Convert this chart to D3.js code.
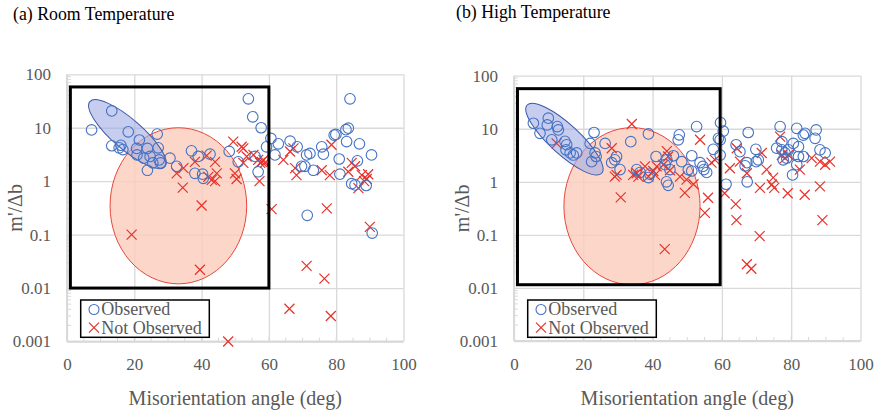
<!DOCTYPE html>
<html><head><meta charset="utf-8">
<script src="https://cdn.jsdelivr.net/npm/d3@7"></script>
<style>html,body{margin:0;padding:0;background:#fff;}svg{display:block;}</style>
</head><body>
<svg id="chart" width="877" height="414"></svg>
<script>
// ---------- data ----------
const xTicks = [0, 20, 40, 60, 80, 100];
const yTicks = [0.001, 0.01, 0.1, 1, 10, 100];
const yTickLabels = ["0.001", "0.01", "0.1", "1", "10", "100"];
const titles = ["(a) Room Temperature", "(b) High Temperature"];
const xTitle = "Misorientation angle (deg)";
const yTitle = "m'/\u0394b";
const legendLabels = ["Observed", "Not Observed"];

// (a) Room temperature: [misorientation angle, m'/Δb]
const observedA = [[13.3,20.6],[7.3,9.1],[18.2,8.4],[21.5,5.9],[26.8,7.6],[13.3,4.6],[16,4.7],[16.6,3.9],[15.5,4.2],[20.7,4.1],[23.9,4.1],[27.1,4.2],[20.8,3.1],[22.8,2.7],[24.7,2.9],[27.4,2.5],[27.8,2.2],[25.5,2.2],[23.9,1.6],[30.6,2.7],[32.6,1.9],[37,3.7],[39,2.9],[42.5,3.2],[38,1.4],[40.3,1.35],[40.5,1.13],[48.2,3.6],[50.9,2.3],[53.9,34.7],[55.2,16],[57.7,10],[60.6,6.3],[59.3,4.4],[62.8,5.0],[66.3,5.6],[68.4,4.4],[61.8,3.1],[55.9,2.9],[56.8,1.5],[71.2,3.1],[72.2,3.3],[69.7,1.9],[70.7,1.9],[73.2,1.6],[75.7,4.4],[76.2,3.2],[79.4,7.3],[79.9,7.5],[82.9,9.2],[83.6,9.8],[84.1,34.7],[83.1,5.5],[86.9,5.0],[90.5,3.1],[80.9,2.6],[86.3,2.4],[81.1,1.35],[84.6,0.9],[85.6,0.85],[88.9,0.83],[71.4,0.23],[90.7,0.107]];
const notObservedA = [[32.6,1.4],[34.6,1.75],[34.4,0.76],[38,2.3],[41.5,3.0],[44,2.3],[43,1.06],[44,1.0],[44.5,1.4],[42,1.2],[49.4,5.5],[51.9,4.4],[49.9,1.4],[50.4,1.1],[52.4,2.2],[53.4,2.9],[52.4,4.1],[55.4,3.1],[56.8,2.5],[57.4,2.2],[57.9,2.3],[58.4,2.5],[58.8,2.2],[57.2,1.0],[66.3,3.6],[67.3,4.1],[64.3,2.5],[67.8,1.75],[68.2,1.3],[75.7,1.6],[78.1,1.3],[78.6,4.8],[84.6,2.2],[85.6,1.9],[83.6,1.5],[87.6,1.3],[89.1,1.1],[88.3,1.0],[86.6,0.74],[89.5,1.35],[40,0.35],[60.8,0.30],[77.2,0.31],[90,0.14],[71.2,0.026],[76.5,0.015],[66.1,0.0041],[78.4,0.003],[47.9,0.001],[39.5,0.022],[19.2,0.1]];

// (b) High temperature
const observedB = [[5.6,12.7],[7.5,8.2],[9.9,15.8],[9.6,11.8],[12.5,11],[12.8,9.5],[10.9,6.2],[14.7,5.8],[15.2,5.0],[15,4.0],[16.2,3.5],[17.1,3.2],[18.1,3.5],[23.1,8.5],[22,5.3],[23.4,3.5],[23.7,3.0],[22.4,2.4],[26.3,5.3],[29.6,3.0],[29.1,2.6],[28.2,2.3],[30.6,1.7],[33.7,5.7],[38.8,8.0],[35.4,1.7],[36.4,1.5],[39.2,1.4],[38.8,1.2],[41,3.0],[44.1,2.6],[43.6,2.1],[46,3.1],[45,1.7],[44,1.0],[44.5,0.86],[47.7,7.7],[47.4,6.2],[48.4,2.4],[50.3,1.7],[51.3,1.6],[51.3,3.1],[52.7,11],[53.7,2.3],[54.5,1.95],[54.8,1.7],[55.6,1.5],[59.6,13],[60.4,9.0],[59,6.6],[59.5,6.2],[57.5,4.1],[59.5,3.2],[61.2,0.9],[64.1,5.0],[65.2,3.7],[67.2,2.3],[66.7,2.0],[67.6,8.5],[67.3,1.0],[69.8,4.1],[70.5,2.6],[69.9,2.4],[76.8,11],[75.8,4.3],[77.3,4.0],[78.2,3.5],[79.2,4.0],[78.7,2.8],[77.7,2.6],[77.3,5.7],[80.6,5.3],[82.1,4.6],[81.6,10.2],[83.5,7.6],[84,8.2],[82.1,3.0],[83.5,3.0],[81.6,2.1],[80.4,1.35],[87.2,9.5],[86.9,6.6],[88.3,4.0],[89.8,3.5]];
const notObservedB = [[34,12.3],[12.3,5.3],[28.2,4.3],[29.6,1.35],[29.1,1.25],[30.8,0.51],[34.4,1.35],[35.4,1.45],[35.9,1.25],[37.8,1.95],[38.8,1.25],[40.2,1.6],[41.2,1.95],[40.7,1.35],[44.1,3.8],[44.5,3.0],[43.1,2.1],[45,1.65],[47.9,1.25],[49.8,1.1],[53.7,6.2],[51.8,0.9],[49.3,0.62],[56,0.5],[58,2.6],[57,2.3],[60.8,0.61],[64,0.38],[62.3,1.8],[64.3,4.3],[65.2,2.4],[67.2,1.45],[71.5,3.5],[71,0.77],[72.9,1.7],[74.8,1.2],[74.4,0.89],[75.1,0.77],[76.8,7.1],[77.3,3.2],[78.2,2.8],[79.2,3.2],[79,0.61],[82.5,1.7],[83.9,0.57],[85.9,2.8],[88.3,0.82],[88.3,2.4],[89.8,2.1],[91.2,2.4],[43.5,0.054],[55.1,0.26],[64.2,0.19],[70.9,0.095],[67.2,0.028],[68.5,0.023],[89,0.19]];

// annotation regions (data units)
const boxA = {x0: 1, x1: 60, y0: 0.01, y1: 58};
const boxB = {x0: 1, x1: 59.5, y0: 0.0115, y1: 57};
const blueTipsA = [[6.8, 30.8], [29.1, 1.87]];
const blueTipsB = [[3.8, 28], [25.3, 1.45]];
const redExtentA = {x: [12.8, 53.4], y: [0.012, 10]};
const redExtentB = {x: [14.4, 53.7], y: [0.0115, 10.5]};

// ---------- drawing ----------
const svg = d3.select("#chart");
const FONT = "'Liberation Serif','Times New Roman',serif";
const GRID = "#d9d9d9", TXT = "#595959", BLUE = "#4472c4", RED = "#e8312a";

svg.append("text").attr("x", 13).attr("y", 19.5).attr("font-family", FONT)
  .attr("font-size", 17.8).attr("fill", "#000").text(titles[0]);
svg.append("text").attr("x", 456).attr("y", 18).attr("font-family", FONT)
  .attr("font-size", 17.8).attr("fill", "#000").text(titles[1]);

function panel(cfg) {
  const x = d3.scaleLinear().domain([0, 100]).range([cfg.left, cfg.right]);
  const y = d3.scaleLog().domain([0.001, 100]).range([cfg.bottom, cfg.top]);
  const g = svg.append("g");
  const W = cfg.right - cfg.left, H = cfg.bottom - cfg.top;

  // Y axis with gridlines
  const ya = g.append("g").attr("transform", `translate(${cfg.left},0)`)
    .call(d3.axisLeft(y).tickValues(yTicks).tickSize(-W).tickPadding(16)
      .tickFormat((d, i) => yTickLabels[i]));
  ya.selectAll(".tick line").attr("stroke", GRID).attr("stroke-width", 1.3);
  ya.select(".domain").remove();
  ya.selectAll("text").attr("font-family", FONT).attr("font-size", 17).attr("fill", TXT);

  // X axis with gridlines
  const xa = g.append("g").attr("transform", `translate(0,${cfg.bottom})`)
    .call(d3.axisBottom(x).tickValues(xTicks).tickSize(-H).tickPadding(16.5));
  xa.selectAll(".tick line").attr("stroke", GRID).attr("stroke-width", 1.3);
  xa.select(".domain").remove();
  xa.selectAll("text").attr("font-family", FONT).attr("font-size", 17).attr("fill", TXT);

  // axis lines
  g.append("line").attr("x1", cfg.left).attr("x2", cfg.left).attr("y1", cfg.top).attr("y2", cfg.bottom)
    .attr("stroke", GRID).attr("stroke-width", 2);
  g.append("line").attr("x1", cfg.left).attr("x2", cfg.right).attr("y1", cfg.bottom).attr("y2", cfg.bottom)
    .attr("stroke", GRID).attr("stroke-width", 2);

  // minor ticks
  const yMinor = [];
  [0.001, 0.01, 0.1, 1, 10].forEach(d => { for (let k = 2; k <= 9; k++) yMinor.push(d * k); });
  g.append("g").selectAll("line").data(yMinor).join("line")
    .attr("x1", cfg.left).attr("x2", cfg.left + 4).attr("y1", d => y(d)).attr("y2", d => y(d))
    .attr("stroke", GRID).attr("stroke-width", 1);
  const xMinor = d3.range(5, 100, 5);
  g.append("g").selectAll("line").data(xMinor).join("line")
    .attr("x1", d => x(d)).attr("x2", d => x(d)).attr("y1", cfg.bottom).attr("y2", cfg.bottom - 4)
    .attr("stroke", GRID).attr("stroke-width", 1);

  // axis titles
  g.append("text").attr("x", (cfg.left + cfg.right) / 2).attr("y", 405).attr("text-anchor", "middle")
    .attr("font-family", FONT).attr("font-size", 20).attr("fill", TXT).text(xTitle);
  g.append("text").attr("transform", `translate(${cfg.left - 45},${(cfg.top + cfg.bottom) / 2}) rotate(-90)`)
    .attr("text-anchor", "middle").attr("font-family", FONT).attr("font-size", 20).attr("fill", TXT).text(yTitle);

  // red ellipse
  const rx0 = x(cfg.red.x[0]), rx1 = x(cfg.red.x[1]);
  const ry0 = y(cfg.red.y[0]), ry1 = y(cfg.red.y[1]);
  g.append("ellipse").attr("cx", (rx0 + rx1) / 2).attr("cy", (ry0 + ry1) / 2)
    .attr("rx", (rx1 - rx0) / 2).attr("ry", Math.abs(ry0 - ry1) / 2)
    .attr("fill", "#fbcdbb").attr("fill-opacity", 0.8).attr("stroke", "#e8473c").attr("stroke-width", 1);

  // blue ellipse
  const p1 = [x(cfg.blue[0][0]), y(cfg.blue[0][1])], p2 = [x(cfg.blue[1][0]), y(cfg.blue[1][1])];
  const cx = (p1[0] + p2[0]) / 2, cy = (p1[1] + p2[1]) / 2;
  const a = Math.hypot(p2[0] - p1[0], p2[1] - p1[1]) / 2;
  const ang = Math.atan2(p2[1] - p1[1], p2[0] - p1[0]) * 180 / Math.PI;
  g.append("ellipse").attr("transform", `translate(${cx},${cy}) rotate(${ang})`)
    .attr("rx", a).attr("ry", 15)
    .attr("fill", "#a2abe4").attr("fill-opacity", 0.6).attr("stroke", "#3b58a6").attr("stroke-width", 1);

  // markers
  const S = 5;
  const xPath = `M${-S},${-S}L${S},${S}M${-S},${S}L${S},${-S}`;
  g.append("g").selectAll("path").data(cfg.notObs).join("path")
    .attr("transform", d => `translate(${x(d[0])},${y(d[1])})`).attr("d", xPath)
    .attr("stroke", RED).attr("stroke-width", 1.2).attr("fill", "none");
  g.append("g").selectAll("circle").data(cfg.obs).join("circle")
    .attr("cx", d => x(d[0])).attr("cy", d => y(d[1])).attr("r", 5.3)
    .attr("fill", "none").attr("stroke", BLUE).attr("stroke-width", 1.1);

  // black box
  g.append("rect").attr("x", x(cfg.box.x0)).attr("y", y(cfg.box.y1))
    .attr("width", x(cfg.box.x1) - x(cfg.box.x0)).attr("height", y(cfg.box.y0) - y(cfg.box.y1))
    .attr("fill", "none").attr("stroke", "#000").attr("stroke-width", 3);

  // legend
  const lx = cfg.left + 13.7, ly = 300;
  const lg = g.append("g");
  lg.append("rect").attr("x", lx).attr("y", ly).attr("width", 128.6).attr("height", 37.3)
    .attr("fill", "#fff").attr("stroke", "#000").attr("stroke-width", 1.5);
  lg.append("circle").attr("cx", lx + 13.3).attr("cy", ly + 9.5).attr("r", 5)
    .attr("fill", "none").attr("stroke", BLUE).attr("stroke-width", 1.1);
  lg.append("path").attr("transform", `translate(${lx + 13.3},${ly + 27.7})`).attr("d", xPath)
    .attr("stroke", RED).attr("stroke-width", 1.2).attr("fill", "none");
  lg.append("text").attr("x", lx + 20.5).attr("y", ly + 15.3).attr("font-family", FONT)
    .attr("font-size", 18).attr("fill", TXT).text(legendLabels[0]);
  lg.append("text").attr("x", lx + 20.5).attr("y", ly + 33.5).attr("font-family", FONT)
    .attr("font-size", 18).attr("fill", TXT).text(legendLabels[1]);
}

panel({left: 67, right: 403.5, top: 74.3, bottom: 341.5, obs: observedA, notObs: notObservedA,
  box: boxA, blue: blueTipsA, red: redExtentA});
panel({left: 514, right: 860.5, top: 75.7, bottom: 341, obs: observedB, notObs: notObservedB,
  box: boxB, blue: blueTipsB, red: redExtentB});
</script>
</body></html>
